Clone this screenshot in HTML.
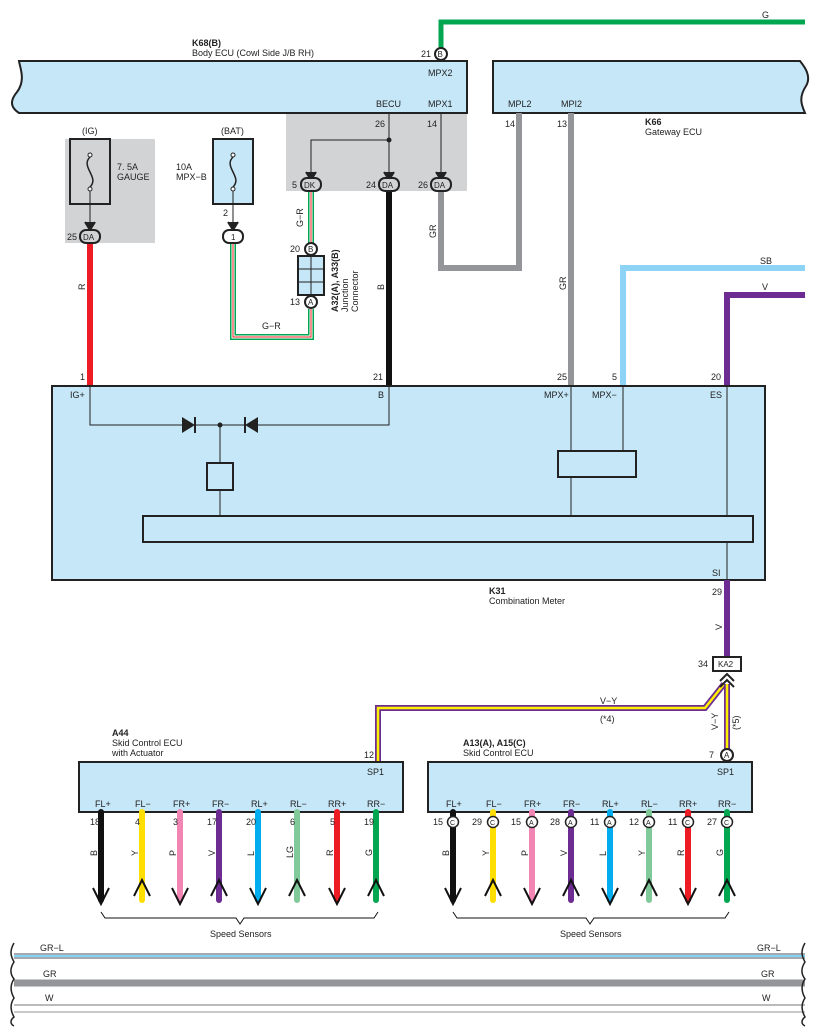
<!DOCTYPE html>
<html><head><style>body{margin:0;background:#fff}svg{display:block;font-family:"Liberation Sans",sans-serif}</style></head><body>
<svg width="817" height="1031" viewBox="0 0 817 1031" xmlns="http://www.w3.org/2000/svg" font-size="9" fill="#222">
<rect x="286" y="113" width="181" height="78" fill="#d2d3d5"/>
<rect x="65" y="139" width="90" height="104" fill="#d2d3d5"/>
<path d="M19,61 H467 V113 H19 C8,106 12,98 17,92 C26,80 20,68 19,61 Z" fill="#c6e7f8" stroke="#222" stroke-width="2"/>
<path d="M493,61 H800 C804,66 812,76 806,86 C798,98 802,106 805,113 H493 Z" fill="#c6e7f8" stroke="#222" stroke-width="2"/>
<text x="192" y="46" font-weight="bold">K68(B)</text>
<text x="192" y="56">Body ECU (Cowl Side J/B RH)</text>
<text x="428" y="76">MPX2</text><text x="376" y="107">BECU</text><text x="428" y="107">MPX1</text>
<text x="508" y="107">MPL2</text><text x="561" y="107">MPI2</text>
<text x="645" y="125" font-weight="bold">K66</text><text x="645" y="135">Gateway ECU</text>
<path d="M441,50 V22 H805" fill="none" stroke="#00a650" stroke-width="5"/>
<text x="762" y="18">G</text>
<circle cx="441" cy="54" r="6" fill="#fff" stroke="#222" stroke-width="2"/><text x="437.5" y="57" font-size="8">B</text>
<text x="421" y="57">21</text>
<rect x="70" y="139" width="40" height="65" fill="#d2d3d5" stroke="#222" stroke-width="2"/>
<rect x="213" y="139" width="40" height="65" fill="#c6e7f8" stroke="#222" stroke-width="2"/>
<path d="M90,157 C80,167 100,177 90,187 M233,157 C223,167 243,177 233,187" fill="none" stroke="#222" stroke-width="1.5"/>
<circle cx="90" cy="155" r="2" fill="#fff" stroke="#222"/><circle cx="90" cy="189" r="2" fill="#fff" stroke="#222"/>
<circle cx="233" cy="155" r="2" fill="#fff" stroke="#222"/><circle cx="233" cy="189" r="2" fill="#fff" stroke="#222"/>
<path d="M90,191 V225 M233,191 V225" stroke="#222"/>
<path d="M85,222 L90,230 L95,222 M228,222 L233,230 L238,222" fill="#222" stroke="#222" stroke-width="2"/>
<text x="82" y="134">(IG)</text><text x="221" y="134">(BAT)</text>
<text x="117" y="170">7. 5A</text><text x="117" y="180">GAUGE</text>
<text x="176" y="170">10A</text><text x="176" y="180">MPX−B</text>
<text x="223" y="216">2</text>
<path d="M90,243 V386" stroke="#ed1c24" stroke-width="6"/>
<text x="85" y="290" transform="rotate(-90 85 290)">R</text>
<rect x="80" y="230" width="20" height="13" rx="6" fill="#d2d3d5" stroke="#222" stroke-width="2"/><text x="83" y="240" font-size="8">DA</text>
<text x="67" y="240">25</text>
<path d="M233,243 V337 H311 V309 M311,191 V243" fill="none" stroke="#00a650" stroke-width="6"/>
<path d="M233,243 V337 H311 V309 M311,191 V243" fill="none" stroke="#fff" stroke-width="3"/>
<path d="M233,243 V337 H311 V309 M311,191 V243" fill="none" stroke="#ed1c24" stroke-width="1"/>
<rect x="223" y="230" width="20" height="13" rx="6" fill="#fff" stroke="#222" stroke-width="2"/><text x="231" y="240" font-size="8">1</text>
<text x="262" y="329">G−R</text>
<text x="303" y="227" transform="rotate(-90 303 227)">G−R</text>
<rect x="298" y="256" width="26" height="39" fill="#c6e7f8" stroke="#222" stroke-width="2"/>
<path d="M311,256 V295 M298,269 H324 M298,282 H324" stroke="#222"/>
<circle cx="311" cy="249" r="6" fill="#fff" stroke="#222" stroke-width="2"/><text x="308" y="252" font-size="8">B</text>
<circle cx="311" cy="302" r="6" fill="#fff" stroke="#222" stroke-width="2"/><text x="308" y="305" font-size="8">A</text>
<text x="290" y="252">20</text><text x="290" y="305">13</text>
<text x="338" y="312" transform="rotate(-90 338 312)" font-weight="bold">A32(A), A33(B)</text>
<text x="348" y="312" transform="rotate(-90 348 312)">Junction</text>
<text x="358" y="312" transform="rotate(-90 358 312)">Connector</text>
<path d="M389,113 V175 M441,113 V175 M389,140 H311 V175" fill="none" stroke="#222"/>
<circle cx="389" cy="140" r="2.5" fill="#222"/>
<path d="M306,172 L311,180 L316,172 M384,172 L389,180 L394,172 M436,172 L441,180 L446,172" fill="#222" stroke="#222" stroke-width="2"/>
<text x="375" y="127">26</text><text x="427" y="127">14</text>
<path d="M389,191 V386" stroke="#111" stroke-width="6"/>
<text x="384" y="290" transform="rotate(-90 384 290)">B</text>
<path d="M441,191 V268 H519 V113" fill="none" stroke="#939598" stroke-width="6"/>
<path d="M571,113 V386" stroke="#939598" stroke-width="6"/>
<text x="436" y="238" transform="rotate(-90 436 238)">GR</text>
<text x="566" y="290" transform="rotate(-90 566 290)">GR</text>
<text x="505" y="127">14</text><text x="557" y="127">13</text>
<rect x="301" y="178" width="20" height="13" rx="6" fill="#d2d3d5" stroke="#222" stroke-width="2"/><text x="304" y="188" font-size="8">DK</text>
<rect x="379" y="178" width="20" height="13" rx="6" fill="#d2d3d5" stroke="#222" stroke-width="2"/><text x="382" y="188" font-size="8">DA</text>
<rect x="431" y="178" width="20" height="13" rx="6" fill="#d2d3d5" stroke="#222" stroke-width="2"/><text x="434" y="188" font-size="8">DA</text>
<text x="292" y="188">5</text><text x="366" y="188">24</text><text x="418" y="188">26</text>
<path d="M623,386 V268 H805" fill="none" stroke="#8dd3f5" stroke-width="6"/>
<path d="M727,386 V295 H805" fill="none" stroke="#6d2c91" stroke-width="6"/>
<text x="760" y="264">SB</text><text x="762" y="290">V</text>
<rect x="52" y="386" width="713" height="194" fill="#c6e7f8" stroke="#222" stroke-width="2"/>
<text x="80" y="380">1</text><text x="373" y="380">21</text><text x="557" y="380">25</text><text x="612" y="380">5</text><text x="711" y="380">20</text>
<text x="70" y="398">IG+</text><text x="378" y="398">B</text><text x="544" y="398">MPX+</text><text x="592" y="398">MPX−</text><text x="710" y="398">ES</text>
<path d="M90,386 V425 H389 V386 M220,425 V463 M220,490 V516 M571,386 V451 M623,386 V451 M571,477 V516 M727,386 V516 M727,542 V580" fill="none" stroke="#222"/>
<path d="M182,417 L182,433 L195,425 Z M258,417 L258,433 L245,425 Z" fill="#222"/>
<path d="M195,417 V433 M245,417 V433" stroke="#222" stroke-width="2"/>
<circle cx="220" cy="425" r="2.5" fill="#222"/>
<rect x="207" y="463" width="26" height="27" fill="#c6e7f8" stroke="#222" stroke-width="2"/>
<rect x="558" y="451" width="78" height="26" fill="#c6e7f8" stroke="#222" stroke-width="2"/>
<rect x="143" y="516" width="610" height="26" fill="#c6e7f8" stroke="#222" stroke-width="2"/>
<text x="712" y="576">SI</text>
<text x="489" y="594" font-weight="bold">K31</text><text x="489" y="604">Combination Meter</text>
<path d="M727,580 V657" stroke="#6d2c91" stroke-width="6"/>
<text x="712" y="595">29</text>
<text x="722" y="630" transform="rotate(-90 722 630)">V</text>
<g fill="none">
<path d="M724,684 L705,708 H378 V762" stroke="#6d2c91" stroke-width="6"/>
<path d="M724,684 L705,708 H378 V762" stroke="#fff200" stroke-width="2.5"/>
<path d="M727,684 V749" stroke="#6d2c91" stroke-width="6"/>
<path d="M727,684 V749" stroke="#fff200" stroke-width="2.5"/>
</g>
<rect x="713" y="657" width="28" height="14" fill="#fff" stroke="#222" stroke-width="2"/><text x="718" y="667" font-size="8">KA2</text>
<text x="698" y="667">34</text>
<path d="M720,681 L727,674 L734,681 M720,687 L727,680 L734,687" fill="none" stroke="#222" stroke-width="2"/>
<text x="600" y="704">V−Y</text><text x="600" y="722">(*4)</text>
<text x="718" y="730" transform="rotate(-90 718 730)">V−Y</text>
<text x="739" y="730" transform="rotate(-90 739 730)">(*5)</text>
<circle cx="727" cy="755" r="6" fill="#fff" stroke="#222" stroke-width="2"/><text x="724" y="758" font-size="8">A</text>
<text x="709" y="758">7</text><text x="364" y="758">12</text>
<rect x="79" y="762" width="324" height="50" fill="#c6e7f8" stroke="#222" stroke-width="2"/>
<rect x="428" y="762" width="324" height="50" fill="#c6e7f8" stroke="#222" stroke-width="2"/>
<text x="112" y="736" font-weight="bold">A44</text><text x="112" y="746">Skid Control ECU</text><text x="112" y="756">with Actuator</text>
<text x="463" y="746" font-weight="bold">A13(A), A15(C)</text><text x="463" y="756">Skid Control ECU</text>
<text x="367" y="775">SP1</text><text x="717" y="775">SP1</text>
<g font-size="9">
<text x="95" y="807">FL+</text><text x="135" y="807">FL−</text><text x="173" y="807">FR+</text><text x="212" y="807">FR−</text><text x="251" y="807">RL+</text><text x="290" y="807">RL−</text><text x="328" y="807">RR+</text><text x="367" y="807">RR−</text>
<text x="446" y="807">FL+</text><text x="486" y="807">FL−</text><text x="524" y="807">FR+</text><text x="563" y="807">FR−</text><text x="602" y="807">RL+</text><text x="641" y="807">RL−</text><text x="679" y="807">RR+</text><text x="718" y="807">RR−</text>
</g>
<g stroke-linecap="round">
<path d="M101,812 V900" stroke="#111" stroke-width="6"/><path d="M142,812 V900" stroke="#ffde00" stroke-width="6"/>
<path d="M180,812 V900" stroke="#f185b4" stroke-width="6"/><path d="M219,812 V900" stroke="#6d2c91" stroke-width="6"/>
<path d="M258,812 V900" stroke="#00aeef" stroke-width="6"/><path d="M297,812 V900" stroke="#82c99a" stroke-width="6"/>
<path d="M337,812 V900" stroke="#ed1c24" stroke-width="6"/><path d="M376,812 V900" stroke="#00a650" stroke-width="6"/>
<path d="M453,812 V900" stroke="#111" stroke-width="6"/><path d="M493,812 V900" stroke="#ffde00" stroke-width="6"/>
<path d="M532,812 V900" stroke="#f185b4" stroke-width="6"/><path d="M571,812 V900" stroke="#6d2c91" stroke-width="6"/>
<path d="M610,812 V900" stroke="#00aeef" stroke-width="6"/><path d="M649,812 V900" stroke="#82c99a" stroke-width="6"/>
<path d="M688,812 V900" stroke="#ed1c24" stroke-width="6"/><path d="M727,812 V900" stroke="#00a650" stroke-width="6"/>
</g>
<g fill="none" stroke="#111" stroke-width="2">
<path d="M93,888 L101,904 L109,888 M172,888 L180,904 L188,888 M250,888 L258,904 L266,888 M329,888 L337,904 L345,888 M445,888 L453,904 L461,888 M602,888 L610,904 L618,888 M680,888 L688,904 L696,888"/>
<path d="M134,896 L142,880 L150,896 M211,896 L219,880 L227,896 M289,896 L297,880 L305,896 M368,896 L376,880 L384,896 M485,896 L493,880 L501,896 M524,888 L532,904 L540,888 M563,896 L571,880 L579,896 M641,896 L649,880 L657,896 M719,896 L727,880 L735,896"/>
<path d="M101,912 L105,918 H236 L240,924 L244,918 H374 L378,912" stroke-width="1"/>
<path d="M453,912 L457,918 H586 L590,924 L594,918 H725 L729,912" stroke-width="1"/>
</g>
<g font-size="9">
<text x="90" y="825">18</text><text x="135" y="825">4</text><text x="173" y="825">3</text><text x="207" y="825">17</text><text x="246" y="825">20</text><text x="290" y="825">6</text><text x="330" y="825">5</text><text x="364" y="825">19</text>
<text x="433" y="825">15</text><text x="472" y="825">29</text><text x="511" y="825">15</text><text x="550" y="825">28</text><text x="590" y="825">11</text><text x="629" y="825">12</text><text x="668" y="825">11</text><text x="707" y="825">27</text>
</g>
<g fill="#fff" stroke="#222" stroke-width="1.5">
<circle cx="453" cy="822" r="5.5"/><circle cx="493" cy="822" r="5.5"/><circle cx="532" cy="822" r="5.5"/><circle cx="571" cy="822" r="5.5"/><circle cx="610" cy="822" r="5.5"/><circle cx="649" cy="822" r="5.5"/><circle cx="688" cy="822" r="5.5"/><circle cx="727" cy="822" r="5.5"/>
</g>
<g font-size="7"><text x="450" y="825">C</text><text x="490" y="825">C</text><text x="529" y="825">A</text><text x="568" y="825">A</text><text x="607" y="825">A</text><text x="646" y="825">A</text><text x="685" y="825">C</text><text x="724" y="825">C</text></g>
<g font-size="9">
<text x="97" y="856" transform="rotate(-90 97 856)">B</text><text x="138" y="856" transform="rotate(-90 138 856)">Y</text><text x="176" y="856" transform="rotate(-90 176 856)">P</text><text x="215" y="856" transform="rotate(-90 215 856)">V</text><text x="254" y="856" transform="rotate(-90 254 856)">L</text><text x="293" y="858" transform="rotate(-90 293 858)">LG</text><text x="333" y="856" transform="rotate(-90 333 856)">R</text><text x="372" y="856" transform="rotate(-90 372 856)">G</text>
<text x="449" y="856" transform="rotate(-90 449 856)">B</text><text x="489" y="856" transform="rotate(-90 489 856)">Y</text><text x="528" y="856" transform="rotate(-90 528 856)">P</text><text x="567" y="856" transform="rotate(-90 567 856)">V</text><text x="606" y="856" transform="rotate(-90 606 856)">L</text><text x="645" y="856" transform="rotate(-90 645 856)">Y</text><text x="684" y="856" transform="rotate(-90 684 856)">R</text><text x="723" y="856" transform="rotate(-90 723 856)">G</text>
</g>
<text x="210" y="937">Speed Sensors</text><text x="560" y="937">Speed Sensors</text>
<!-- bottom lines -->
<path d="M14,956 H805" stroke="#a7a9ac" stroke-width="6"/>
<path d="M14,956 H805" stroke="#fff" stroke-width="2"/>
<path d="M14,956 H805" stroke="#00aeef" stroke-width="1"/>
<path d="M14,983 H805" stroke="#939598" stroke-width="7"/>
<path d="M14,1005 H805" stroke="#777" stroke-width="1"/>
<path d="M14,1012 H805" stroke="#c8c9cb" stroke-width="2"/>
<text x="40" y="951">GR−L</text><text x="757" y="951">GR−L</text>
<text x="43" y="977">GR</text><text x="761" y="977">GR</text>
<text x="45" y="1001">W</text><text x="762" y="1001">W</text>
<path d="M14,943 C10,950 10,955 14,962 C10,968 10,974 14,979 C10,985 10,991 14,998 C10,1004 10,1010 14,1017 C10,1020 10,1024 14,1026" fill="none" stroke="#222" stroke-width="1.5"/>
<path d="M805,943 C801,950 801,955 805,962 C801,968 801,974 805,979 C801,985 801,991 805,998 C801,1004 801,1010 805,1017 C801,1020 801,1024 805,1026" fill="none" stroke="#222" stroke-width="1.5"/>
</svg>
</body></html>
